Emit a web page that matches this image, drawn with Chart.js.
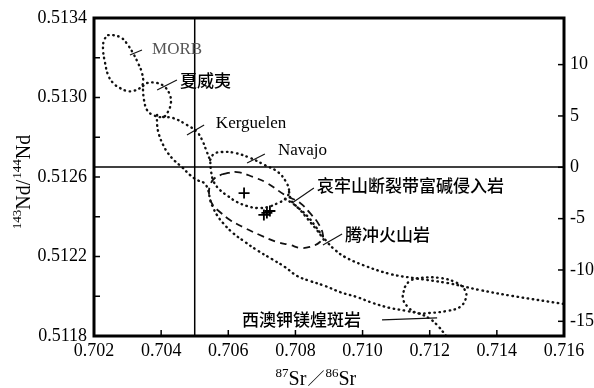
<!DOCTYPE html>
<html>
<head>
<meta charset="utf-8">
<style>
  html, body { margin: 0; padding: 0; background: #fff; }
  canvas { display: block; }
</style>
<script src="https://cdn.jsdelivr.net/npm/chart.js@4.4.1/dist/chart.umd.min.js"></script>
</head>
<body>
<canvas id="chart" width="594" height="388"></canvas>
<script>
// Sr–Nd isotope fields, each point is [87Sr/86Sr, 143Nd/144Nd]
const morbField = [
  [0.70242,0.513314],[0.70257,0.513314],[0.70283,0.513299],[0.70301,0.513264],[0.70316,0.513224],
  [0.70331,0.513174],[0.70343,0.513123],[0.70346,0.513073],[0.70337,0.513048],[0.70316,0.513033],
  [0.70298,0.513033],[0.70277,0.513048],[0.70257,0.513073],[0.70242,0.513113],[0.70233,0.513174],
  [0.70227,0.513239],[0.70230,0.513289],[0.70242,0.513314]
];
const hawaiiField = [
  [0.70346,0.513058],[0.70358,0.513073],[0.70388,0.513073],[0.70411,0.513053],[0.70426,0.513013],
  [0.70429,0.512972],[0.70420,0.512927],[0.70406,0.512902],[0.70376,0.512912],[0.70358,0.512937],
  [0.70349,0.512987],[0.70346,0.513038],[0.70346,0.513058]
];
const kerguelenUpper = [
  [0.70406,0.512902],[0.70435,0.512897],[0.70477,0.512862],[0.70507,0.512826],[0.70522,0.512786],
  [0.70534,0.512736],[0.70543,0.512696]
];
const navajoField = [
  [0.70546,0.512686],[0.70557,0.512716],[0.70581,0.512726],[0.70620,0.512721],[0.70665,0.512696],
  [0.70709,0.512660],[0.70748,0.512625],[0.70772,0.512575],[0.70781,0.512525],[0.70769,0.512489],
  [0.70748,0.512469],[0.70718,0.512449],[0.70686,0.512444],[0.70656,0.512454],[0.70626,0.512474],
  [0.70599,0.512504],[0.70575,0.512535],[0.70557,0.512575],[0.70549,0.512625],[0.70546,0.512686]
];
// lower envelope of the mantle array, from Kerguelen down to the lamproites
const arrayLower = [
  [0.70388,0.512912],[0.70388,0.512862],[0.70394,0.512811],[0.70406,0.512761],[0.70420,0.512721],
  [0.70441,0.512680],[0.70462,0.512650],[0.70486,0.512610],[0.70507,0.512585],[0.70528,0.512570],
  [0.70540,0.512535],[0.70546,0.512484],[0.70554,0.512449],[0.70566,0.512409],[0.70584,0.512369],
  [0.70614,0.512318],[0.70650,0.512273],[0.70689,0.512228],[0.70730,0.512187],[0.70769,0.512147],
  [0.70805,0.512102],[0.70843,0.512077],[0.70888,0.512052],[0.70933,0.512021],[0.70983,0.511996],
  [0.71031,0.511966],[0.71082,0.511941],[0.71132,0.511926],[0.71171,0.511911],[0.71201,0.511886],
  [0.71225,0.511850],[0.71249,0.511800]
];
// upper envelope, from Navajo to the right edge
const arrayUpper = [
  [0.70781,0.512525],[0.70787,0.512484],[0.70802,0.512454],[0.70823,0.512424],[0.70843,0.512389],
  [0.70861,0.512348],[0.70879,0.512308],[0.70897,0.512268],[0.70918,0.512233],[0.70948,0.512197],
  [0.71001,0.512157],[0.71082,0.512112],[0.71150,0.512092],[0.71251,0.512067],[0.71350,0.512031],
  [0.71448,0.512001],[0.71600,0.511961]
];
const tengchongEdge = [
  [0.70769,0.512489],[0.70790,0.512469],[0.70811,0.512439],[0.70829,0.512404],[0.70846,0.512369],
  [0.70864,0.512333],[0.70879,0.512298],[0.70891,0.512268]
];
const lamproiteField = [
  [0.71126,0.512047],[0.71141,0.512077],[0.71171,0.512092],[0.71231,0.512092],[0.71281,0.512067],
  [0.71305,0.512031],[0.71308,0.511991],[0.71290,0.511946],[0.71251,0.511926],[0.71201,0.511916],
  [0.71162,0.511916],[0.71135,0.511946],[0.71120,0.511991],[0.71126,0.512047]
];
// Ailaoshan alkali-rich intrusions (dashed)
const ailaoshanField = [
  [0.70584,0.512615],[0.70626,0.512625],[0.70674,0.512600],[0.70715,0.512570],[0.70769,0.512509],
  [0.70814,0.512469],[0.70843,0.512419],[0.70867,0.512369],[0.70882,0.512308],[0.70873,0.512273],
  [0.70843,0.512248],[0.70814,0.512243],[0.70784,0.512258],[0.70745,0.512273],[0.70694,0.512308],
  [0.70644,0.512348],[0.70605,0.512384],[0.70575,0.512424],[0.70554,0.512459],[0.70543,0.512509],
  [0.70546,0.512560],[0.70560,0.512595],[0.70584,0.512615]
];
// samples
const sampleSr = [0.70647, 0.70706, 0.70715, 0.70724];
const sampleNd = [0.512519, 0.512409, 0.512419, 0.512429];

// bulk-earth reference lines
const bulkSr = 0.705;
const chondriteNd = 0.51265;

// axis ranges and ticks
const srRange = [0.702, 0.716];
const ndRange = [0.5118, 0.5134];
const epsRange = [-16.43, 14.54];
const srStep = 0.002, ndStep = 0.0002, epsStep = 5;

// field names with their leader lines: [Sr, Nd] of text anchor, leader start, leader end
const fieldLabels = [
  { text: 'MORB', at: [0.70373, 0.513239], from: [0.70307, 0.513214], to: [0.70343, 0.513239], latin: true, color: '#555' },
  { text: '夏威夷', at: [0.70456, 0.513083], from: [0.70388, 0.513038], to: [0.70447, 0.513088] },
  { text: 'Kerguelen', at: [0.70563, 0.512867], from: [0.70477, 0.512811], to: [0.70528, 0.512862], latin: true },
  { text: 'Navajo', at: [0.70748, 0.512731], from: [0.70656, 0.512670], to: [0.70709, 0.512716], latin: true },
  { text: '哀牢山断裂带富碱侵入岩', at: [0.70864, 0.512555], from: [0.70790, 0.512469], to: [0.70855, 0.512545] },
  { text: '腾冲火山岩', at: [0.70948, 0.512308], from: [0.70882, 0.512258], to: [0.70939, 0.512313] },
  { text: '西澳钾镁煌斑岩', at: [0.70641, 0.511881], from: [0.71058, 0.511881], to: [0.71222, 0.511891] }
];

const pts = arr => arr.map(([x, y]) => ({ x, y }));

const dotted = (arr) => ({
  data: pts(arr), showLine: true, pointRadius: 0, tension: 0.4,
  borderColor: '#111', borderWidth: 2.4, borderDash: [0.5, 4.6], borderCapStyle: 'round', fill: false
});

const datasets = [
  { data: pts([[bulkSr, ndRange[0]], [bulkSr, ndRange[1]]]), showLine: true, pointRadius: 0, borderColor: '#000', borderWidth: 1.5 },
  { data: pts([[srRange[0], chondriteNd], [srRange[1], chondriteNd]]), showLine: true, pointRadius: 0, borderColor: '#000', borderWidth: 1.5 },
  dotted(morbField), dotted(hawaiiField), dotted(kerguelenUpper), dotted(navajoField),
  dotted(arrayLower), dotted(arrayUpper), dotted(tengchongEdge), dotted(lamproiteField),
  { data: pts(ailaoshanField), showLine: true, pointRadius: 0, tension: 0.4,
    borderColor: '#111', borderWidth: 1.8, borderDash: [7, 5], fill: false },
  { data: sampleSr.map((x, i) => ({ x, y: sampleNd[i] })), showLine: false,
    pointStyle: 'cross', pointRadius: 5.5, borderColor: '#000', borderWidth: 1.8 }
];
fieldLabels.forEach(l => datasets.push({
  data: pts([l.from, l.to]), showLine: true, pointRadius: 0, borderColor: '#111', borderWidth: 1.1
}));

const SERIF = '"Liberation Serif", "Times New Roman", serif';
const CJK = '"Noto Sans CJK SC", sans-serif';

// draws a run of text pieces (some raised as superscripts) starting at x, on baseline y
function richWidth(ctx, parts) {
  return parts.reduce((w, p) => { ctx.font = p.font; return w + ctx.measureText(p.t).width + (p.gap || 0); }, 0);
}
function drawRich(ctx, parts, x, y) {
  parts.forEach(p => {
    ctx.font = p.font;
    ctx.fillText(p.t, x, y - (p.rise || 0));
    x += ctx.measureText(p.t).width + (p.gap || 0);
  });
}

const decorations = {
  id: 'decorations',
  afterDatasetsDraw(chart) {
    const { ctx, chartArea: a, scales: { x, y, y2 } } = chart;
    ctx.save();
    ctx.strokeStyle = '#000';
    ctx.lineWidth = 1.5;
    const seg = (x1, y1, x2, y2_) => { ctx.beginPath(); ctx.moveTo(x1, y1); ctx.lineTo(x2, y2_); ctx.stroke(); };
    // inward tick marks
    y.ticks.forEach(t => { const p = y.getPixelForValue(t.value); seg(a.left, p, a.left + 6, p); });
    y2.ticks.forEach(t => { const p = y2.getPixelForValue(t.value); seg(a.right, p, a.right - 6, p); });
    x.ticks.forEach(t => { const p = x.getPixelForValue(t.value); seg(p, a.bottom, p, a.bottom - 6); });
    // frame
    ctx.lineWidth = 3;
    ctx.strokeRect(a.left, a.top, a.right - a.left, a.bottom - a.top);

    // field names
    ctx.textBaseline = 'middle';
    ctx.textAlign = 'left';
    fieldLabels.forEach(l => {
      ctx.fillStyle = l.color || '#000';
      ctx.font = l.latin ? `17px ${SERIF}` : `500 17px ${CJK}`;
      ctx.fillText(l.text, x.getPixelForValue(l.at[0]), y.getPixelForValue(l.at[1]));
    });

    // axis titles
    ctx.fillStyle = '#000';
    ctx.textBaseline = 'alphabetic';
    const big = `20px ${SERIF}`, small = `13px ${SERIF}`;
    const xt = [
      { t: '87', font: small, rise: 8 }, { t: 'Sr', font: big, gap: 1 },
      { t: '／', font: `17px ${CJK}`, gap: 1 },
      { t: '86', font: small, rise: 8 }, { t: 'Sr', font: big }
    ];
    const xc = x.getPixelForValue(0.70861);
    drawRich(ctx, xt, xc - richWidth(ctx, xt) / 2, 385);

    const yt = [
      { t: '143', font: `13px ${SERIF}`, rise: 9 }, { t: 'Nd', font: `20px ${SERIF}` },
      { t: '/', font: `20px ${SERIF}`, gap: 1 },
      { t: '144', font: `13px ${SERIF}`, rise: 9 }, { t: 'Nd', font: `20px ${SERIF}` }
    ];
    ctx.translate(30, y.getPixelForValue(0.512575));
    ctx.rotate(-Math.PI / 2);
    drawRich(ctx, yt, -richWidth(ctx, yt) / 2, 0);
    ctx.restore();
  }
};

new Chart(document.getElementById('chart'), {
  type: 'scatter',
  data: { datasets },
  options: {
    responsive: false,
    animation: false,
    devicePixelRatio: 1,
    layout: { padding: { top: 18, left: 0, right: 0, bottom: 0 } },
    plugins: { legend: { display: false }, tooltip: { enabled: false } },
    scales: {
      x: {
        type: 'linear', position: 'bottom', min: srRange[0], max: srRange[1],
        afterFit(s) { s.height = 52; },
        grid: { display: false, drawTicks: false }, border: { display: false },
        ticks: {
          stepSize: srStep, padding: 4, color: '#000', maxRotation: 0, autoSkip: false,
          font: { family: SERIF, size: 18 },
          callback: v => v.toFixed(3)
        }
      },
      y: {
        type: 'linear', position: 'left', min: ndRange[0], max: ndRange[1],
        afterFit(s) { s.width = 94; },
        grid: { display: false, drawTicks: false }, border: { display: false },
        ticks: {
          stepSize: ndStep, padding: 7, color: '#000', autoSkip: false,
          font: { family: SERIF, size: 18 },
          callback: v => (Math.round((v - ndRange[0]) / ndStep) % 2 === 0 ? v.toFixed(4) : '')
        }
      },
      y2: {
        type: 'linear', position: 'right', min: epsRange[0], max: epsRange[1],
        afterFit(s) { s.width = 30; },
        afterBuildTicks(s) { s.ticks = s.ticks.filter(t => Math.abs(t.value % epsStep) < 1e-9); },
        grid: { display: false, drawTicks: false }, border: { display: false },
        ticks: {
          stepSize: epsStep, includeBounds: false, padding: 6, color: '#000', autoSkip: false,
          font: { family: SERIF, size: 18 },
          callback: v => String(v)
        }
      }
    }
  },
  plugins: [decorations]
});
</script>
</body>
</html>
